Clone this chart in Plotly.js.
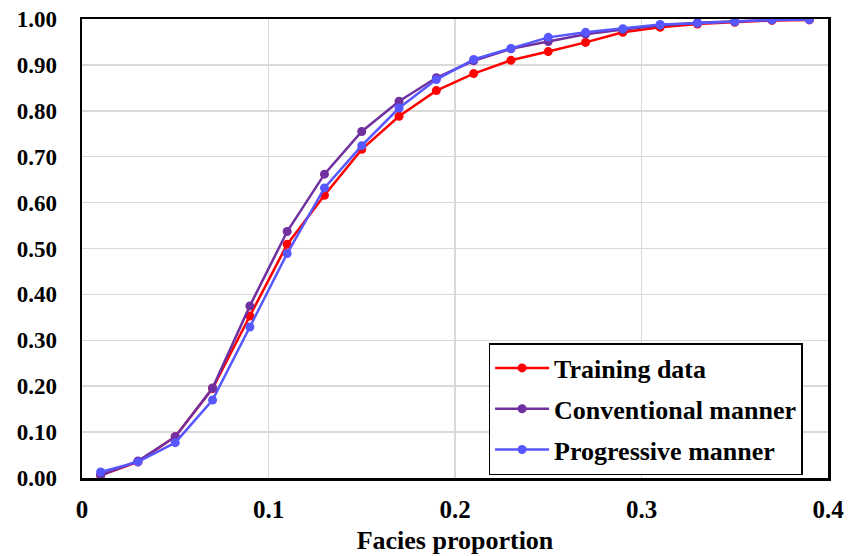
<!DOCTYPE html>
<html>
<head>
<meta charset="utf-8">
<script src="https://cdn.plot.ly/plotly-3.0.1.min.js"></script>
<style>html,body{margin:0;padding:0;background:#fff;}#chart{width:861px;height:556px;}</style>
</head>
<body>
<div id="chart"></div>
<script>
const faciesProportion = [0.01,0.03,0.05,0.07,0.09,0.11,0.13,0.15,0.17,0.19,0.21,0.23,0.25,0.27,0.29,0.31,0.33,0.35,0.37,0.39];
const trainingData     = [0.006,0.035,0.090,0.195,0.353,0.509,0.616,0.716,0.788,0.844,0.881,0.910,0.929,0.949,0.971,0.982,0.989,0.993,0.997,0.998];
const conventional     = [0.006,0.037,0.090,0.196,0.375,0.537,0.662,0.755,0.821,0.872,0.909,0.935,0.951,0.967,0.977,0.986,0.992,0.995,0.998,0.999];
const progressive      = [0.013,0.035,0.077,0.170,0.329,0.489,0.632,0.724,0.806,0.868,0.912,0.936,0.960,0.971,0.979,0.988,0.991,0.994,0.998,0.999];
const seriesNames = ["Training data","Conventional manner","Progressive manner"];
const seriesColors = ["#ff0000","#7030a0","#5757ff"];

const ys = [trainingData, conventional, progressive];
const traces = ys.map((y,i)=>({
  x: faciesProportion, y: y, type:"scatter", mode:"lines+markers",
  name: seriesNames[i], legendgroup: "g"+i,
  line:{color:seriesColors[i], width:2.5},
  marker:{color:seriesColors[i], size:9}
}));

const fam = "Liberation Serif, Times New Roman, serif";
const layout = {
  width:861, height:556,
  margin:{l:82, r:33, t:19, b:78},
  paper_bgcolor:"#fff", plot_bgcolor:"#fff",
  font: {family:fam, size:20, color:"#000"},
  xaxis:{
    range:[0,0.4], dtick:0.1, tick0:0, showgrid:true, gridcolor:"#d9d9d9", gridwidth:1.5,
    zeroline:false, showline:true, linecolor:"#000", linewidth:2.5, mirror:true,
    ticks:"", ticklabelstandoff:7, tickfont:{family:fam, size:25, color:"#000", weight:"bold"},
    title:{text:"<b>Facies proportion</b>", font:{family:fam, size:26, color:"#000"}, standoff:10}
  },
  yaxis:{
    range:[0,1], dtick:0.1, tick0:0, tickformat:".2f", showgrid:true, gridcolor:"#d9d9d9", gridwidth:1.5,
    zeroline:false, showline:true, linecolor:"#000", linewidth:2.5, mirror:true,
    ticks:"outside", ticklen:18, tickcolor:"rgba(0,0,0,0)", tickfont:{family:fam, size:23, color:"#000", weight:"bold"}
  },
  legend:{
    x:0.545, y:0.2941, xanchor:"left", yanchor:"top",
    bgcolor:"#fff", bordercolor:"#000", borderwidth:1.5,
    font:{family:fam, size:26, color:"#000", weight:"bold"},
    tracegroupgap:4, itemwidth:54, entrywidth:330
  },
  showlegend:true
};
Plotly.newPlot("chart", traces, layout, {displayModeBar:false, staticPlot:true});
</script>
</body>
</html>
